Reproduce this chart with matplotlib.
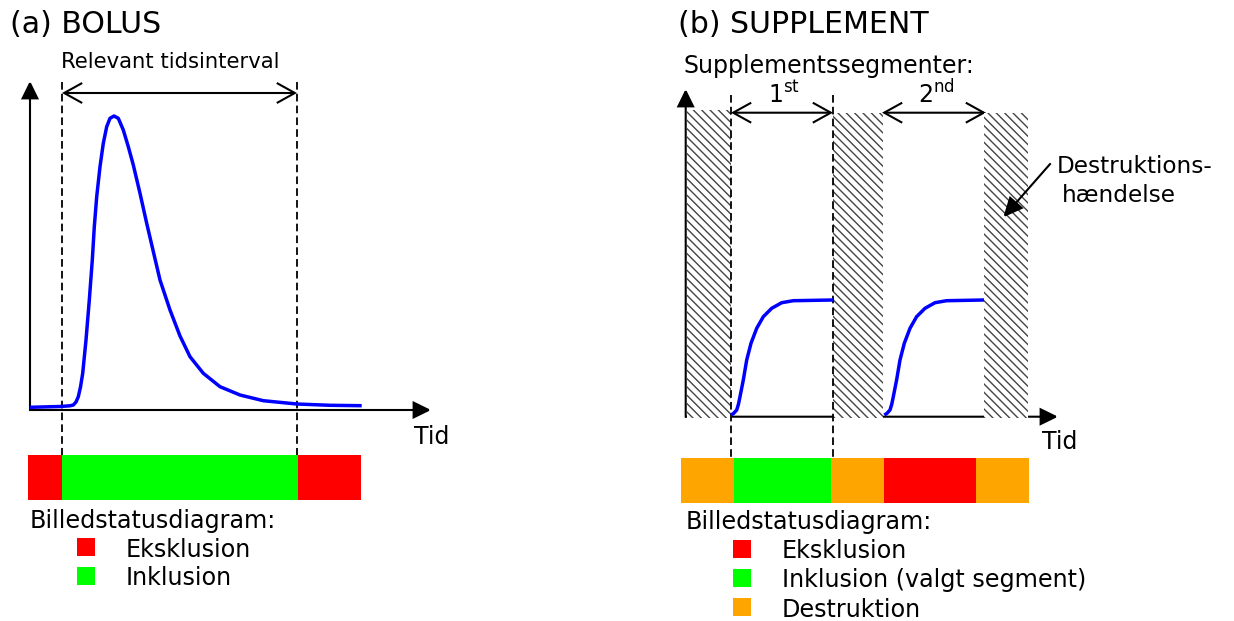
import matplotlib
matplotlib.use("Agg")
import matplotlib.pyplot as plt
from matplotlib.patches import Rectangle, FancyArrowPatch, ArrowStyle

plt.rcParams['font.family'] = ['DejaVu Sans']
plt.rcParams['hatch.linewidth'] = 1.0
plt.rcParams['lines.scale_dashes'] = False
plt.rcParams['mathtext.fontset'] = 'dejavusans'

# ---------------- data (figure pixel coordinates) ----------
# Panel (a) bolus curve
bolus_t = [30, 60, 70, 73.3, 76, 78.3, 80.5, 82.7, 86, 89.3, 92.3, 94.3, 96.7, 100,
           103.3, 106.7, 110, 114, 118.3, 123.3, 128.3, 133.3, 140, 146.7, 153.3,
           160, 170, 180, 190, 203.3, 220, 240, 263.3, 296.7, 330, 361.7]
bolus_s = [407.3, 406.5, 405.8, 405, 402, 396.7, 387, 373.3, 340, 300, 260, 226.7,
           196.7, 166.7, 143.3, 126.7, 118.3, 116, 118.3, 130, 146.7, 165, 193.3,
           223.3, 251.5, 280, 310, 336, 356.7, 373.3, 386.7, 395, 400.7, 404,
           405.3, 405.7]
bolus_interval = [62, 297]
bolus_status_edges = [28, 62, 298, 361]
bolus_status_colors = ['#FF0000', '#00FF00', '#FF0000']
bolus_legend_labels = ['Eksklusion', 'Inklusion']
bolus_legend_colors = ['#FF0000', '#00FF00']

# Panel (b) supplement curves (one per segment)
supp1_t = [731, 733.5, 736.7, 738.5, 740, 743.3, 746.7, 751, 756.7, 763.3, 771.7,
           781.7, 793.3, 833]
supp1_s = [415, 413.5, 410, 404, 396.7, 380, 360, 343.3, 328.3, 316.7, 308.3,
           302.7, 300.7, 300]
supp2_t = [884.3, 886.8, 890, 891.8, 893.3, 896.6, 900, 904.3, 910, 916.6, 925,
           935, 946.6, 984]
supp2_s = [415, 413.5, 410, 404, 396.7, 380, 360, 343.3, 328.3, 316.7, 308.3,
           302.7, 300.7, 300]
destruction_x0 = [686.7, 833.3, 984]
destruction_x1 = [731, 883.3, 1027.7]
destruction_top = [110, 112.7, 112.7]
segment_bounds = [(731, 833), (882, 986)]
segment_labels = [r'1$^{\mathrm{st}}$', r'2$^{\mathrm{nd}}$']
supp_dashed = [731, 832.7]
supp_status_edges = [681, 733.7, 831, 884, 976, 1029]
supp_status_colors = ['#FFA500', '#00FF00', '#FFA500', '#FF0000', '#FFA500']
supp_legend_labels = ['Eksklusion', 'Inklusion (valgt segment)', 'Destruktion']
supp_legend_colors = ['#FF0000', '#00FF00', '#FFA500']

# ---------------- figure ----------------
fig = plt.figure(figsize=(12.34, 6.21), dpi=100)
ax = fig.add_axes([0, 0, 1, 1])
ax.set_xlim(0, 1234)
ax.set_ylim(621, 0)
ax.axis('off')

AXLW = 1.5
LEGFS = 17.2
filled = ArrowStyle('-|>', head_length=10.8, head_width=5.3)
openhead = ArrowStyle('<->', head_length=13, head_width=7.2)


def arrow(p0, p1, style, lw=AXLW, z=3):
    a = FancyArrowPatch(p0, p1, arrowstyle=style, mutation_scale=1, lw=lw,
                        color='black', shrinkA=0, shrinkB=0, zorder=z,
                        joinstyle='miter', capstyle='butt')
    ax.add_patch(a)


def dashed(x, y0, y1):
    ax.plot([x, x], [y0, y1], color='black', lw=1.3, dashes=(5.5, 3), zorder=4)


def status_bar(edges, colors, top, bottom):
    for x0, x1, c in zip(edges[:-1], edges[1:], colors):
        ax.add_patch(Rectangle((x0, top), x1 - x0, bottom - top, facecolor=c,
                               edgecolor='none', zorder=2))


def legend(x_sq, x_txt, y_title, title_x, labels, colors, y0, dy):
    ax.text(title_x, y_title, 'Billedstatusdiagram:', fontsize=LEGFS, va='baseline',
            ha='left')
    for i, (lab, c) in enumerate(zip(labels, colors)):
        yb = y0 + i * dy
        ax.add_patch(Rectangle((x_sq, yb - 18.5), 18, 18, facecolor=c,
                               edgecolor='none', zorder=2))
        ax.text(x_txt, yb, lab, fontsize=LEGFS, va='baseline', ha='left')


# ----- panel (a) -----
ax.text(10, 33, '(a) BOLUS', fontsize=21.6, va='baseline', ha='left')
ax.text(61, 68.3, 'Relevant tidsinterval', fontsize=15.2, va='baseline', ha='left')
arrow((30, 411), (30, 81), filled)
arrow((29.2, 410), (431, 410), filled)
ax.plot(bolus_t, bolus_s, color='#0000FF', lw=2.5, zorder=5, solid_joinstyle='round',
        solid_capstyle='butt')
for x in bolus_interval:
    dashed(x, 82, 455)
arrow((bolus_interval[0], 93), (bolus_interval[1], 93), openhead)
ax.text(414, 444.3, 'Tid', fontsize=17, va='baseline', ha='left')
status_bar(bolus_status_edges, bolus_status_colors, 455, 500)
legend(77, 126, 527.7, 30, bolus_legend_labels, bolus_legend_colors, 556.7, 28.5)

# ----- panel (b) -----
ax.text(678, 33, '(b) SUPPLEMENT', fontsize=21.6, va='baseline', ha='left')
ax.text(683.5, 73.3, 'Supplementssegmenter:', fontsize=17, va='baseline', ha='left')
arrow((685.7, 417.5), (685.7, 89), filled)
arrow((685, 416.7), (1058, 416.7), filled)
for x0, x1, top in zip(destruction_x0, destruction_x1, destruction_top):
    ax.add_patch(Rectangle((x0, top), x1 - x0, 417.5 - top, facecolor='white',
                           edgecolor='#444444', lw=0, hatch='\\\\\\\\', zorder=3.5))
ax.plot(supp1_t, supp1_s, color='#0000FF', lw=2.5, zorder=5, solid_capstyle='butt')
ax.plot(supp2_t, supp2_s, color='#0000FF', lw=2.5, zorder=5, solid_capstyle='butt')
for x in supp_dashed:
    dashed(x, 95, 458)
for (x0, x1), lab in zip(segment_bounds, segment_labels):
    arrow((x0, 112.7), (x1, 112.7), openhead)
    ax.text((x0 + x1) / 2 + 2, 103.3, lab, fontsize=17, va='baseline', ha='center')
ax.text(1041.7, 449, 'Tid', fontsize=17, va='baseline', ha='left')
arrow((1050.7, 163.3), (1003.3, 217.3), ArrowStyle('-|>', head_length=12, head_width=5.5),
      lw=1.5, z=6)
ax.text(1056.7, 173.3, 'Destruktions-', fontsize=16.7, va='baseline', ha='left')
ax.text(1061.7, 201.7, 'hændelse', fontsize=16.7, va='baseline', ha='left')
status_bar(supp_status_edges, supp_status_colors, 457.7, 502.7)
legend(732.7, 781.7, 529.3, 686, supp_legend_labels, supp_legend_colors, 558.3, 29.2)

fig.savefig('out.png', dpi=100, facecolor='white')
